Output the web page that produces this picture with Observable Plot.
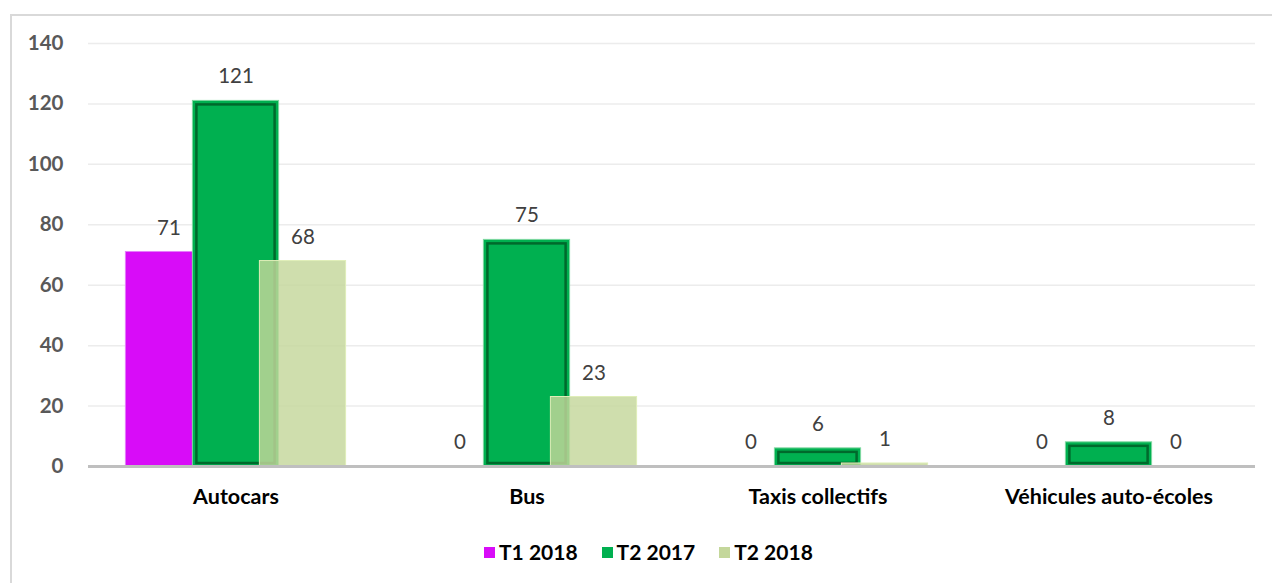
<!DOCTYPE html>
<html><head><meta charset="utf-8">
<script src="https://cdn.jsdelivr.net/npm/d3@7"></script>
<script src="https://cdn.jsdelivr.net/npm/@observablehq/plot@0.6"></script>
<style>
html,body{margin:0;padding:0;background:#fff;font-family:Lato,"Noto Sans",sans-serif;overflow:hidden;}
#chart{position:absolute;left:0;top:0;}
#frame{position:absolute;left:10px;top:14px;width:1320px;height:640px;border:2px solid #d9d9d9;box-sizing:border-box;pointer-events:none;}
#legend{position:absolute;left:484px;top:541px;display:flex;align-items:center;font:bold 21px Lato,sans-serif;color:#000;line-height:22px;}
#legend .item{display:flex;align-items:center;margin-right:24px;}
#legend .sw{width:11px;height:11px;margin-right:4px;box-sizing:border-box;}
</style></head><body>
<div id="chart"></div>
<div id="legend"></div>
<div id="frame"></div>
<script>
const categories = ["Autocars", "Bus", "Taxis collectifs", "Véhicules auto-écoles"];
const seriesNames = ["T1 2018", "T2 2017", "T2 2018"];
const valuesT1_2018 = [71, 0, 0, 0];
const valuesT2_2017 = [121, 75, 6, 8];
const valuesT2_2018 = [68, 23, 1, 0];
const yTicks = [0, 20, 40, 60, 80, 100, 120, 140];
const seriesColors = ["#d80cf8", "#00b050", "#c4d79b"];

const seriesValues = [valuesT1_2018, valuesT2_2017, valuesT2_2018];
const rows = [];
seriesNames.forEach((s, si) => categories.forEach((c, ci) => rows.push({category: c, series: s, si, value: seriesValues[si][ci]})));

const step = 67;       // horizontal offset between the overlapping bars
const inset = 102.4;   // leaves bars ~87px wide in a 292px band

const marks = [
  Plot.gridY(yTicks, {stroke: "#ececec", strokeOpacity: 1, strokeWidth: 1.5})
];
seriesNames.forEach((s, si) => {
  const d = rows.filter(r => r.si === si);
  const dx = (si - 1) * step;
  if (si === 1) {
    marks.push(Plot.barY(d, {x: "category", y: "value", fill: seriesColors[si], dx, insetLeft: inset, insetRight: inset, stroke: "#7fd8a0", strokeWidth: 1}));
    marks.push(Plot.barY(d.filter(r => r.value > 0), {x: "category", y: "value", fill: "none", stroke: "#00692c", strokeWidth: 2.5, dx, insetLeft: inset + 4, insetRight: inset + 4, insetTop: 4, insetBottom: 3}));
  } else if (si === 0) {
    marks.push(Plot.barY(d, {x: "category", y: "value", fill: seriesColors[si], dx, insetLeft: inset, insetRight: inset, stroke: "#e57cfb", strokeWidth: 1}));
  } else {
    marks.push(Plot.barY(d, {x: "category", y: "value", fill: seriesColors[si], fillOpacity: 0.82, dx, insetLeft: inset, insetRight: inset, stroke: "#dfeeb8", strokeWidth: 1}));
  }
});
marks.push(Plot.ruleY([0], {stroke: "#bfbfbf", strokeWidth: 3}));
seriesNames.forEach((s, si) => {
  marks.push(Plot.text(rows.filter(r => r.si === si), {x: "category", y: "value", text: d => String(d.value), dx: (si - 1) * step, dy: -24, fontSize: 20.5, fill: "#404040", fontFamily: "Lato"}));
});
marks.push(Plot.axisY({ticks: yTicks, tickSize: 0, tickPadding: 25, fontSize: 20.5, fontWeight: "bold", fill: "#595959", label: null}));
marks.push(Plot.axisX({tickSize: 0, tickPadding: 22, fontSize: 21.5, fontWeight: "bold", fill: "#000", label: null}));

const chart = Plot.plot({
  width: 1272,
  height: 530,
  marginLeft: 88,
  marginRight: 17,
  marginTop: 43,
  marginBottom: 64,
  style: {fontFamily: "Lato, sans-serif", background: "transparent", overflow: "visible"},
  x: {domain: categories, padding: 0, label: null},
  y: {domain: [0, 140], label: null},
  marks
});
document.getElementById("chart").appendChild(chart);

const legend = document.getElementById("legend");
seriesNames.forEach((s, si) => {
  const it = document.createElement("div");
  it.className = "item";
  const sw = document.createElement("span");
  sw.className = "sw";
  sw.style.background = seriesColors[si];
  const t = document.createElement("span");
  t.textContent = s;
  it.appendChild(sw); it.appendChild(t);
  legend.appendChild(it);
});
</script>
</body></html>
